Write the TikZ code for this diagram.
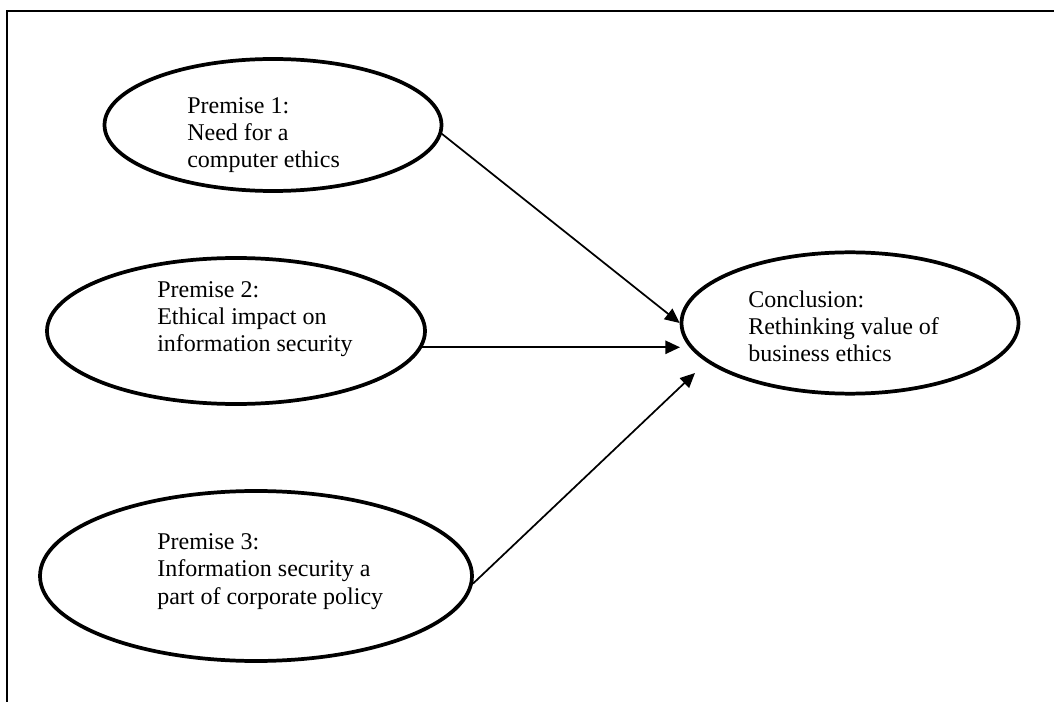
\documentclass[tikz,border=0pt]{standalone}
\usepackage{fontspec}
\setmainfont{Liberation Serif}
\usetikzlibrary{arrows.meta,shapes.geometric}
\tikzset{
  bubble/.style={ellipse, draw, line width=2.8pt, inner sep=0pt},
  flowln/.style={-{Triangle[length=11pt,width=10pt]}, line width=1.3pt},
  frameln/.style={line width=1.5pt},
  bubbletext/.style={anchor=base west, align=left, inner sep=0pt,
    font=\fontsize{18}{20.6}\selectfont},
}

\begin{document}
\begin{tikzpicture}[x=0.75pt,y=-0.75pt]
    \useasboundingbox (0,0) rectangle (1054,702);
    \draw[frameln] (7,702) -- (7,11) -- (1054,11);
    \node[bubble, minimum width=252.75pt, minimum height=99pt] (p1) at (273,125) {};
    \node[bubble, minimum width=283.5pt, minimum height=109.5pt] (p2) at (236,331) {};
    \node[bubble, minimum width=324pt, minimum height=127.5pt] (p3) at (256,576) {};
    \node[bubble, minimum width=252.75pt, minimum height=106pt] (concl) at (850,323) {};
    \node[bubbletext] (p1txt) at (187,168) {Premise 1:\\Need for a\\computer ethics};
    \node[bubbletext] (p2txt) at (157,352) {Premise 2:\\Ethical impact on\\information security};
    \node[bubbletext] (p3txt) at (157,604) {Premise 3:\\Information security a\\part of corporate policy};
    \node[bubbletext] (concltxt) at (748,362) {Conclusion:\\Rethinking value of\\business ethics};
    \coordinate (tip2) at (680,348);
    \coordinate (tip3) at (695,373);
    \draw[flowln] (p1.-3) -- (concl.west);
    \draw[flowln] (p2.-5) -- (p2.-5 -| tip2);
    \draw[flowln] (p3.-2) -- (tip3);
  \end{tikzpicture}
\end{document}
